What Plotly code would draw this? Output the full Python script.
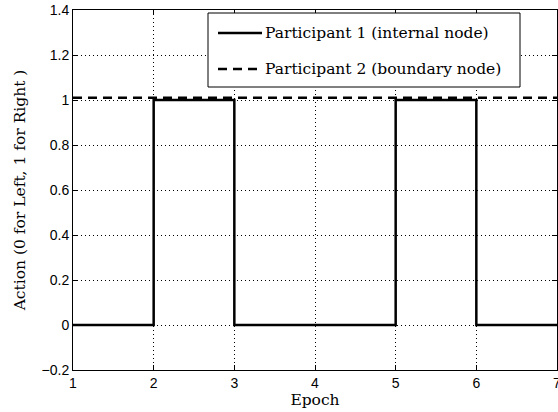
import plotly.graph_objects as go

epochs = [1, 2, 3, 4, 5, 6, 7]
participant1 = [0, 1, 0, 0, 1, 0, 0]
participant2 = [1.01, 1.01, 1.01, 1.01, 1.01, 1.01, 1.01]
name1 = "Participant 1 (internal node)"
name2 = "Participant 2 (boundary node)"
x_ticks = [1, 2, 3, 4, 5, 6, 7]
y_ticks = [-0.2, 0, 0.2, 0.4, 0.6, 0.8, 1, 1.2, 1.4]
y_tick_labels = ["\u22120.2", "0", "0.2", "0.4", "0.6", "0.8", "1", "1.2", "1.4"]

serif = "DejaVu Serif"
sans = "Liberation Sans"

fig = go.Figure()
fig.add_trace(go.Scatter(x=epochs, y=participant1, mode="lines", line_shape="hv",
                         line=dict(color="black", width=2.5), name=name1))
fig.add_trace(go.Scatter(x=epochs, y=participant2, mode="lines",
                         line=dict(color="black", width=2.5, dash="9px,6px"), name=name2))

axis_common = dict(showline=True, linecolor="black", linewidth=1, mirror="allticks",
                   ticks="inside", ticklen=5, tickcolor="black",
                   showgrid=True, gridcolor="black", griddash="1px,3px", gridwidth=1,
                   zeroline=False, ticklabeloverflow="allow", automargin=False,
                   tickfont=dict(family=sans, size=14, color="black"))

fig.update_xaxes(range=[1, 7], tickvals=x_ticks, ticktext=[str(v) for v in x_ticks],
                 title=dict(text="Epoch", font=dict(family=serif, size=15.5, color="black"), standoff=3),
                 **axis_common)
fig.update_yaxes(range=[-0.2, 1.4], tickvals=y_ticks, ticktext=y_tick_labels,
                 title=dict(text="Action (0 for Left, 1 for Right )", font=dict(family=serif, size=15.5, color="black"), standoff=12),
                 **axis_common)

# manual legend (MATLAB style box); coordinates in window pixels
L, R, T, B = 73, 557, 10, 370
def px(x):
    return (x - L) / (R - L)
def py(y):
    return (B - y) / (B - T)

fig.add_shape(type="rect", xref="paper", yref="paper", x0=px(208), x1=px(520), y0=py(87), y1=py(13),
              line=dict(color="black", width=1), fillcolor="white", layer="above")
for yy, dash, name in [(33, "solid", name1), (69, "9px,6px", name2)]:
    fig.add_shape(type="line", xref="paper", yref="paper", x0=px(218), x1=px(262), y0=py(yy), y1=py(yy),
                  line=dict(color="black", width=2.5, dash=dash), layer="above")
    fig.add_annotation(xref="paper", yref="paper", x=px(263), y=py(yy), text=name, showarrow=False,
                       xanchor="left", yanchor="middle", font=dict(family=serif, size=15.5, color="black"))

fig.update_layout(width=558, height=412, margin=dict(l=73, r=1, t=10, b=42),
                  plot_bgcolor="white", paper_bgcolor="white", showlegend=False)

# remove the default 8px page margin so the figure fills the 558x412 window
fig.write_html("out.html", config={"displayModeBar": False},
               post_script="document.body.style.margin='0';document.body.style.overflow='hidden';")
